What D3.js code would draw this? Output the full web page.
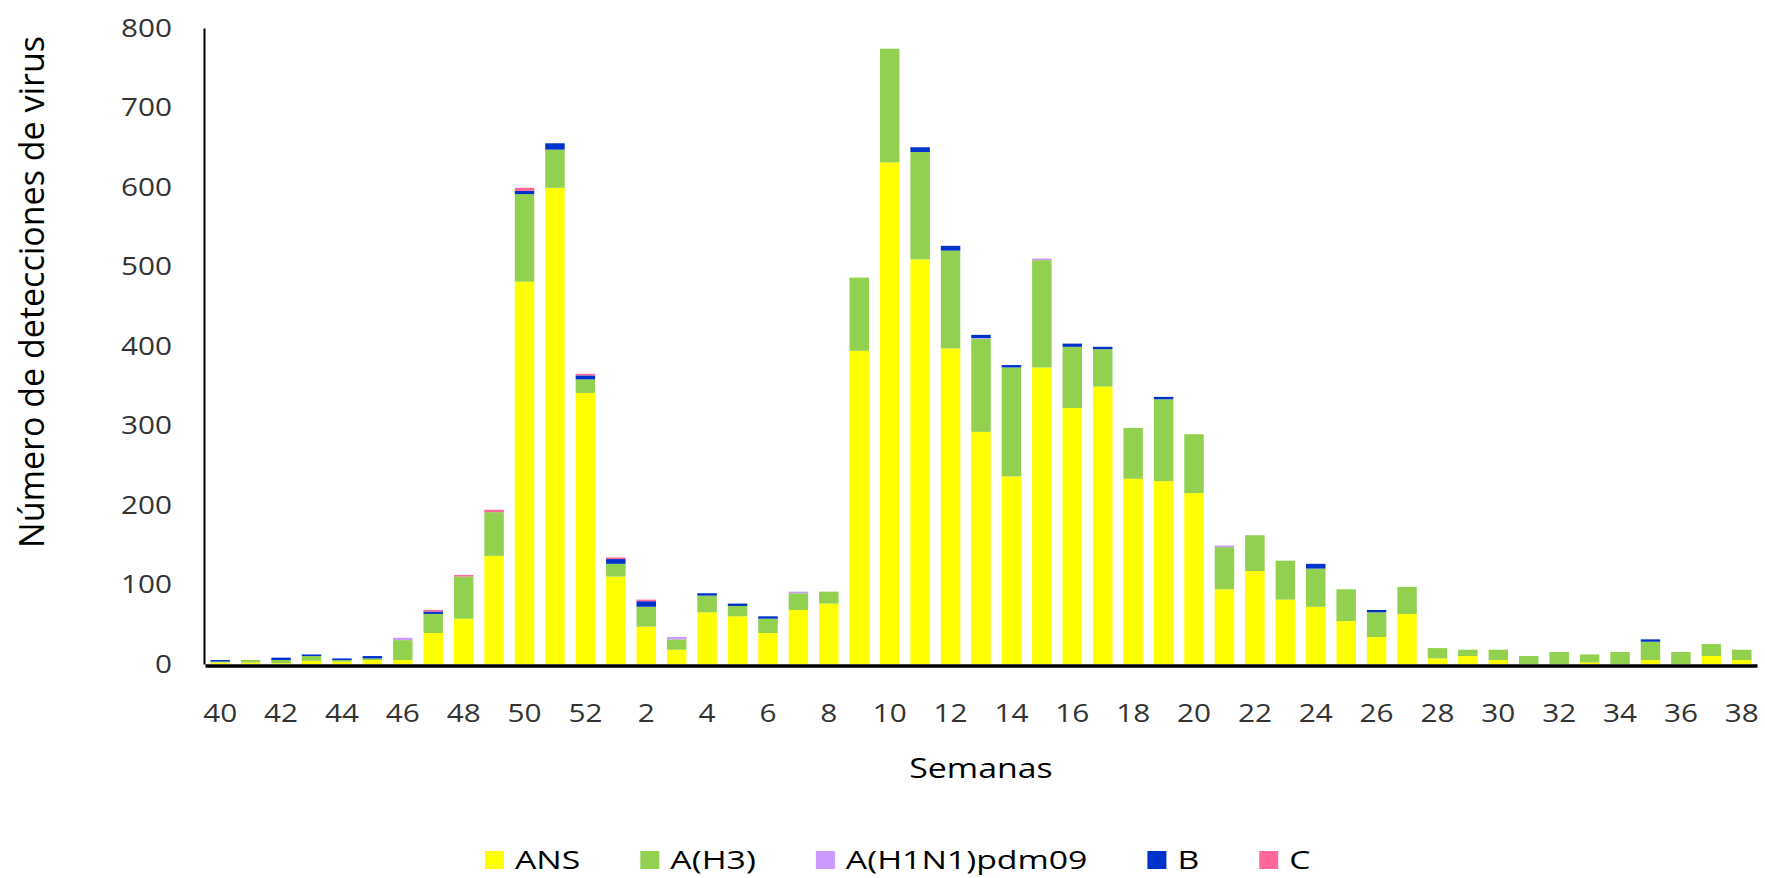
<!DOCTYPE html>
<html>
<head>
<meta charset="utf-8">
<script src="https://cdn.jsdelivr.net/npm/d3@7/dist/d3.min.js"></script>
<style>
  html, body { margin: 0; padding: 0; background: #ffffff; }
  svg { display: block; }
  text { font-family: "Open Sans", "Noto Sans", sans-serif; }
</style>
</head>
<body>
<svg id="chart" width="1765" height="878"></svg>
<script>
// ---- Data ----
const weeks = [40,41,42,43,44,45,46,47,48,49,50,51,52,
  1,2,3,4,5,6,7,8,9,10,11,12,13,14,15,16,17,18,19,20,
  21,22,23,24,25,26,27,28,29,30,31,32,33,34,35,36,37,38];

const seriesNames = ["ANS", "A(H3)", "A(H1N1)pdm09", "B", "C"];
const seriesColors = ["#FFFF00", "#92D050", "#CC99FF", "#0033CC", "#FF6699"];

const ans = [2,2,1,4,3,5,5,39,57,136,481,599,341,
  110,47,18,65,60,39,68,76,394,631,509,397,292,236,373,322,349,233,230,215,
  94,117,81,72,54,34,63,7,10,5,0,0,2,0,5,0,10,5];

const h3 = [1,3,4,6,2,2,25,24,53,55,110,48,17,
  16,25,13,21,13,18,21,15,92,143,135,123,117,137,135,77,47,64,103,74,
  53,45,49,48,40,31,34,13,8,13,10,15,10,15,23,15,15,13];

const h1n1 = [0,0,0,0,0,0,3,0,0,0,0,0,0,
  0,0,3,0,0,0,2,0,0,0,0,0,1,0,2,0,0,0,0,0,
  2,0,0,0,0,0,0,0,0,0,0,0,0,0,0,0,0,0];

const bVals = [2,0,3,2,2,3,0,3,0,0,4,8,5,
  6,7,0,3,3,3,0,0,0,0,6,6,4,3,0,4,3,0,3,0,
  0,0,0,6,0,3,0,0,0,0,0,0,0,0,3,0,0,0];

const cVals = [0,0,0,0,0,0,0,2,2,3,4,0,2,
  2,2,0,0,0,0,0,0,0,0,0,0,0,0,0,0,0,0,0,0,
  0,0,0,0,0,0,0,0,0,0,0,0,0,0,0,0,0,0];

const yTicks = [0,100,200,300,400,500,600,700,800];
const yTitle = "Número de detecciones de virus";
const xTitle = "Semanas";

// ---- Build table ----
const seriesArrays = [ans, h3, h1n1, bVals, cVals];
const table = weeks.map((w, i) => {
  const row = { idx: i, week: w };
  seriesNames.forEach((s, k) => row[s] = seriesArrays[k][i]);
  return row;
});

const stacked = d3.stack().keys(seriesNames)(table);

// ---- Layout ----
const svg = d3.select("#chart");
const plotLeft = 205, plotRight = 1757, plotTop = 28, plotBase = 664;
const x = d3.scaleBand()
  .domain(table.map(d => d.idx))
  .range([plotLeft, plotRight])
  .paddingInner(0.36)
  .paddingOuter(0.18);
const y = d3.scaleLinear().domain([0, 800]).range([plotBase, plotTop]);

// ---- Bars ----
const color = d3.scaleOrdinal().domain(seriesNames).range(seriesColors);
svg.append("g").selectAll("g")
  .data(stacked)
  .join("g")
  .attr("fill", d => color(d.key))
  .selectAll("rect")
  .data(d => d)
  .join("rect")
  .attr("x", d => x(d.data.idx))
  .attr("width", x.bandwidth())
  .attr("y", d => y(d[1]))
  .attr("height", d => Math.max(0, y(d[0]) - y(d[1])));

// ---- Axes ----
const sxTick = 1.19;
const yAxis = d3.axisLeft(y).tickValues(yTicks).tickSize(0).tickSizeOuter(0).tickPadding(0);
const gy = svg.append("g").attr("transform", `translate(${plotLeft - 1},0)`).call(yAxis);
gy.select(".domain").attr("stroke", "#000").attr("stroke-width", 2);
gy.selectAll(".tick text")
  .attr("font-size", 25)
  .attr("fill", "#333333")
  .attr("x", -32 / sxTick)
  .attr("transform", `scale(${sxTick},1)`);

const xAxis = d3.axisBottom(x)
  .tickValues(table.filter(d => d.idx % 2 === 0).map(d => d.idx))
  .tickFormat(i => weeks[i])
  .tickSize(0).tickSizeOuter(0);
const gx = svg.append("g").attr("transform", `translate(0,${plotBase + 1.5})`).call(xAxis);
gx.select(".domain").attr("stroke", "#000").attr("stroke-width", 3.5);
gx.selectAll(".tick text")
  .attr("font-size", 25)
  .attr("fill", "#333333")
  .attr("y", 39)
  .attr("x", 0)
  .attr("transform", `scale(${sxTick},1)`);

// ---- Titles ----
svg.append("text")
  .attr("transform", `translate(44,292) rotate(-90)`)
  .attr("text-anchor", "middle")
  .attr("font-size", 34)
  .attr("fill", "#000")
  .text(yTitle);

svg.append("text")
  .attr("transform", `translate(981,778) scale(1.21,1)`)
  .attr("text-anchor", "middle")
  .attr("font-size", 28)
  .attr("fill", "#000")
  .text(xTitle);

// ---- Legend ----
const sxLeg = 1.3;
const leg = svg.append("g");
let lx = 485;
const ly = 860;
seriesNames.forEach((s, k) => {
  leg.append("rect")
    .attr("x", lx).attr("y", ly - 9)
    .attr("width", 19).attr("height", 18)
    .attr("fill", seriesColors[k]);
  const t = leg.append("text")
    .attr("transform", `translate(${lx + 30},${ly + 9}) scale(${sxLeg},1)`)
    .attr("font-size", 26)
    .attr("fill", "#000")
    .text(s);
  const w = t.node().getComputedTextLength() * sxLeg;
  lx = lx + 30 + w + 60;
});
</script>
</body>
</html>
